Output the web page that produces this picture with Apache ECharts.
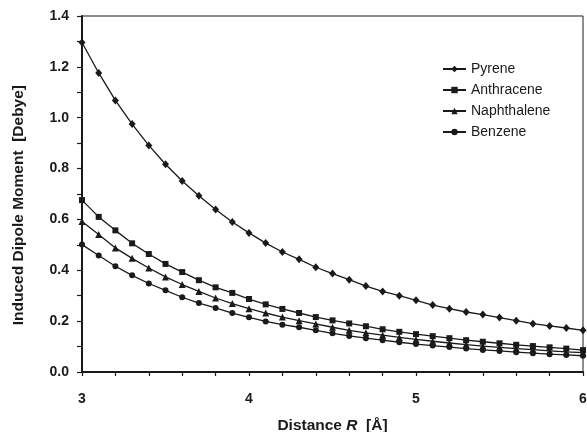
<!DOCTYPE html>
<html>
<head>
<meta charset="utf-8">
<script src="https://cdn.jsdelivr.net/npm/echarts@6/dist/echarts.min.js"></script>
<style>
  html, body { margin: 0; padding: 0; background: #fff; }
  #chart { width: 587px; height: 432px; }
</style>
</head>
<body>
<div id="chart"></div>
<script>
// Distance R in Å
const distance = [3.0, 3.1, 3.2, 3.3, 3.4, 3.5, 3.6, 3.7, 3.8, 3.9,
                  4.0, 4.1, 4.2, 4.3, 4.4, 4.5, 4.6, 4.7, 4.8, 4.9,
                  5.0, 5.1, 5.2, 5.3, 5.4, 5.5, 5.6, 5.7, 5.8, 5.9, 6.0];

// Induced dipole moment in Debye
const pyrene = [1.296, 1.176, 1.068, 0.975, 0.891, 0.817, 0.751, 0.693, 0.639, 0.590,
                0.547, 0.507, 0.472, 0.443, 0.412, 0.387, 0.363, 0.338, 0.317, 0.300,
                0.282, 0.263, 0.249, 0.236, 0.226, 0.214, 0.202, 0.190, 0.181, 0.173, 0.164];
const anthracene = [0.676, 0.610, 0.557, 0.506, 0.464, 0.425, 0.393, 0.361, 0.333, 0.311,
                    0.287, 0.266, 0.248, 0.232, 0.216, 0.203, 0.191, 0.180, 0.168, 0.158,
                    0.149, 0.141, 0.133, 0.125, 0.119, 0.113, 0.107, 0.102, 0.097, 0.092, 0.086];
const naphthalene = [0.592, 0.541, 0.488, 0.447, 0.409, 0.374, 0.344, 0.317, 0.291, 0.269,
                     0.249, 0.232, 0.216, 0.202, 0.189, 0.176, 0.164, 0.154, 0.145, 0.136,
                     0.128, 0.121, 0.114, 0.108, 0.102, 0.097, 0.092, 0.088, 0.083, 0.079, 0.076];
const benzene = [0.501, 0.458, 0.416, 0.380, 0.348, 0.321, 0.294, 0.271, 0.252, 0.232,
                 0.215, 0.199, 0.186, 0.176, 0.164, 0.152, 0.142, 0.133, 0.125, 0.117,
                 0.110, 0.104, 0.098, 0.092, 0.087, 0.083, 0.078, 0.074, 0.070, 0.067, 0.064];

const seriesNames = ['Pyrene', 'Anthracene', 'Naphthalene', 'Benzene'];
const seriesValues = [pyrene, anthracene, naphthalene, benzene];
const markerShapes = ['diamond', 'rect', 'triangle', 'circle'];
const markerSizes = [[7, 8], 6, 7, 6];

const FONT = '"Liberation Sans", Arial, Helvetica, sans-serif';
const INK = '#1a1a1a';

const chart = echarts.init(document.getElementById('chart'), null, { renderer: 'canvas' });

const series = seriesNames.map((name, i) => ({
  name: name,
  type: 'line',
  data: distance.map((r, k) => [r, seriesValues[i][k]]),
  symbol: markerShapes[i],
  symbolSize: markerSizes[i],
  showAllSymbol: true,
  lineStyle: { color: INK, width: 1.3 },
  itemStyle: { color: INK, borderWidth: 0 },
  emphasis: { disabled: true },
  animation: false
}));

chart.setOption({
  animation: false,
  backgroundColor: '#fff',
  grid: {
    left: 82, right: 4, top: 16, bottom: 60,
    outerBoundsMode: 'none',
    containLabel: false,
    show: true, borderColor: INK, borderWidth: 1, backgroundColor: 'transparent'
  },
  legend: {
    data: seriesNames,
    orient: 'vertical',
    left: 437, top: 57,
    itemWidth: 23, itemHeight: 8, itemGap: 7,
    textStyle: { fontFamily: FONT, fontSize: 14, color: INK, lineHeight: 14 },
    inactiveColor: INK
  },
  xAxis: {
    type: 'value',
    min: 3, max: 6, interval: 1,
    name: '{b|Distance }{i|R}{b|  [Å]}',
    nameLocation: 'middle',
    nameGap: 46,
    nameTextStyle: {
      rich: {
        b: { fontFamily: FONT, fontSize: 15.5, fontWeight: 'bold', color: INK },
        i: { fontFamily: FONT, fontSize: 15.5, fontWeight: 'bold', fontStyle: 'italic', color: INK }
      }
    },
    axisLine: { show: true, onZero: false, lineStyle: { color: INK, width: 2 } },
    axisTick: { show: true, length: 4, lineStyle: { color: INK, width: 1.2 } },
    minorTick: { show: true, splitNumber: 5, length: 4, lineStyle: { color: INK, width: 1.2 } },
    axisLabel: { margin: 20, fontFamily: FONT, fontSize: 14, fontWeight: 'bold', color: INK },
    splitLine: { show: false }
  },
  yAxis: {
    type: 'value',
    min: 0, max: 1.4, interval: 0.2,
    axisLine: { show: true, onZero: false, lineStyle: { color: INK, width: 2 } },
    axisTick: { show: true, length: 5, lineStyle: { color: INK, width: 1.2 } },
    minorTick: { show: true, splitNumber: 2, length: 5, lineStyle: { color: INK, width: 1.2 } },
    axisLabel: {
      margin: 13, fontFamily: FONT, fontSize: 14, fontWeight: 'bold', color: INK,
      formatter: v => v.toFixed(1)
    },
    splitLine: { show: false }
  },
  graphic: [{
    type: 'text',
    left: 11, top: 85,
    rotation: Math.PI / 2,
    style: {
      text: 'Induced Dipole Moment  [Debye]',
      fontFamily: FONT, fontSize: 15.5, fontWeight: 'bold', fill: INK
    }
  }],
  series: series
});
</script>
</body>
</html>
